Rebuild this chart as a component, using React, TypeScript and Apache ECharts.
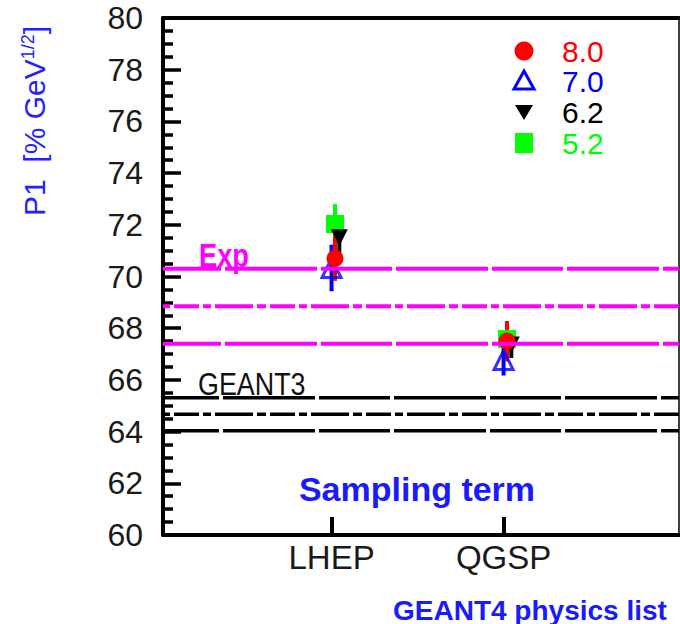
import React, { useEffect, useRef } from 'react';
import * as echarts from 'echarts';

// ---- data ----
const categories = ['LHEP', 'QGSP'];
const categoryPos = [1, 2];
const energies = ['8.0', '7.0', '6.2', '5.2'];
const yTickMin = 60;
const yTickMax = 80;
const yTickStep = 2;

// sampling term values at LHEP, QGSP for each energy
const val80 = [70.7, 67.5];
const err80 = [0.87, 0.78];
const val70 = [70.33, 66.77];
const err70 = [0.9, 0.6];
const val62 = [71.5, 67.35];
const err62 = [0.7, 0.5];
const val52 = [72.03, 67.58];
const err52 = [0.77, 0.3];

// reference bands
const expCentral = 68.85;
const expErr = 1.45;
const geant3Central = 64.67;
const geant3Err = 0.64;

const X_MIN = 0.02;
const X_MAX = 3.02;
const FONT = '"Liberation Sans", Arial, Helvetica, sans-serif';

const longDash = [92, 4, 71, 4];
const dashDot = [25, 4, 8, 4, 38, 4, 9, 4];

function pts(vals: number[], errs: number[], shift: number) {
  return vals.map((v, i) => [categoryPos[i] + shift, v, errs[i]]);
}

export default function App() {
  const ref = useRef<HTMLDivElement>(null);
  useEffect(() => {
    if (!ref.current) return;
    const chart = echarts.init(ref.current, null, { renderer: 'svg' });

    const sets = [
      { name: '5.2', data: pts(val52, err52, 0.02), color: '#00ff00', symbol: 'rect', size: 18, rot: 0, open: false },
      { name: '7.0', data: pts(val70, err70, 0.0), color: '#0000ff', symbol: 'triangle', size: 19, rot: 0, open: true },
      { name: '6.2', data: pts(val62, err62, 0.045), color: '#000000', symbol: 'triangle', size: 17, rot: 180, open: false },
      { name: '8.0', data: pts(val80, err80, 0.02), color: '#ff0000', symbol: 'circle', size: 17, rot: 0, open: false },
    ];

    const series: any[] = [];
    sets.forEach((s) => {
      series.push({
        type: 'custom',
        name: s.name + ' err',
        data: s.data,
        encode: { x: 0, y: 1 },
        z: 2,
        renderItem: (params: any, api: any) => {
          const x = api.value(0);
          const y = api.value(1);
          const e = api.value(2);
          const p1 = api.coord([x, y - e]);
          const p2 = api.coord([x, y + e]);
          return {
            type: 'line',
            shape: { x1: p1[0], y1: p1[1], x2: p2[0], y2: p2[1] },
            style: { stroke: s.color, lineWidth: 4 },
          };
        },
      });
      series.push({
        type: 'scatter',
        name: s.name,
        data: s.data.map((d) => [d[0], d[1]]),
        symbol: s.symbol,
        symbolSize: s.size,
        symbolRotate: s.rot,
        z: 2,
        itemStyle: s.open
          ? { color: 'rgba(0,0,0,0)', borderColor: s.color, borderWidth: 3 }
          : { color: s.color, opacity: 1 },
      });
    });

    const hline = (v: number, color: string, dash: number[], offset: number, width: number) => ({
      type: 'line',
      data: [
        [X_MIN, v],
        [X_MAX, v],
      ],
      showSymbol: false,
      symbol: 'none',
      z: 5,
      lineStyle: { color, width, type: dash, dashOffset: offset, cap: 'butt' },
      silent: true,
    });

    series.push(hline(expCentral + expErr, '#ff00ff', longDash, 109, 4));
    series.push(hline(expCentral, '#ff00ff', dashDot, 85, 4));
    series.push(hline(expCentral - expErr, '#ff00ff', longDash, 109, 4));
    series.push(hline(geant3Central + geant3Err, '#000000', longDash, 111, 3.5));
    series.push(hline(geant3Central, '#000000', dashDot, 85, 3.5));
    series.push(hline(geant3Central - geant3Err, '#000000', longDash, 111, 3.5));

    const legendColors = ['#ff0000', '#0000ff', '#000000', '#00ff00'];
    const rowsY = [51, 81, 112, 143];
    const mx = 524;
    const legendGraphics: any[] = [
      { type: 'circle', shape: { cx: mx, cy: rowsY[0], r: 9.5 }, style: { fill: legendColors[0] } },
      {
        type: 'polygon',
        shape: { points: [[mx, rowsY[1] - 10], [mx + 10, rowsY[1] + 8], [mx - 10, rowsY[1] + 8]] },
        style: { fill: 'none', stroke: legendColors[1], lineWidth: 3 },
      },
      {
        type: 'polygon',
        shape: { points: [[mx - 9, rowsY[2] - 7], [mx + 9, rowsY[2] - 7], [mx, rowsY[2] + 8]] },
        style: { fill: legendColors[2] },
      },
      { type: 'rect', shape: { x: mx - 9, y: rowsY[3] - 10, width: 18, height: 20 }, style: { fill: legendColors[3] } },
    ];
    energies.forEach((e, i) => {
      legendGraphics.push({
        type: 'text',
        x: 562,
        y: rowsY[i],
        style: { text: e, fill: legendColors[i], font: `30px ${FONT}`, textAlign: 'left', textVerticalAlign: 'middle' },
      });
    });

    const option: any = {
      animation: false,
      backgroundColor: '#ffffff',
      grid: { left: 163, top: 18, right: 1, bottom: 89, containLabel: false },
      xAxis: [
        {
          type: 'value',
          position: 'bottom',
          min: X_MIN,
          max: X_MAX,
          axisLine: { show: true, onZero: false, lineStyle: { color: '#000', width: 4 } },
          axisTick: { show: true, inside: true, length: 18, lineStyle: { color: '#000', width: 4 }, customValues: categoryPos },
          axisLabel: {
            show: true,
            customValues: categoryPos,
            formatter: (v: number) => categories[categoryPos.indexOf(Math.round(v))] || '',
            fontSize: 33,
            fontFamily: FONT,
            color: '#1a1a1a',
            margin: 6,
          },
          splitLine: { show: false },
        },
        {
          type: 'value',
          position: 'top',
          min: X_MIN,
          max: X_MAX,
          axisLine: { show: true, onZero: false, lineStyle: { color: '#000', width: 4 } },
          axisTick: { show: false },
          axisLabel: { show: false },
          splitLine: { show: false },
        },
      ],
      yAxis: [
        {
          type: 'value',
          min: yTickMin,
          max: yTickMax,
          interval: yTickStep,
          axisLine: { show: true, onZero: false, lineStyle: { color: '#000', width: 4 } },
          axisTick: { show: true, inside: true, length: 18, lineStyle: { color: '#000', width: 3.5 } },
          minorTick: { show: true, splitNumber: 4, length: 10, lineStyle: { color: '#000', width: 3.5 } },
          axisLabel: { fontSize: 32, fontFamily: FONT, color: '#1a1a1a', margin: 20 },
          splitLine: { show: false },
        },
        {
          type: 'value',
          position: 'right',
          min: yTickMin,
          max: yTickMax,
          axisLine: { show: true, onZero: false, lineStyle: { color: '#000', width: 1.5 } },
          axisTick: { show: false },
          axisLabel: { show: false },
          splitLine: { show: false },
        },
      ],
      graphic: [
        ...legendGraphics,
        {
          type: 'text',
          x: 34,
          y: 216,
          rotation: Math.PI / 2,
          style: {
            text: '{m|P1  [% GeV}{s|1/2}{m|]}',
            textAlign: 'left',
            textVerticalAlign: 'middle',
            rich: {
              m: { fontSize: 30, fontFamily: FONT, fill: '#2222ff', color: '#2222ff' },
              s: { fontSize: 18, fontFamily: FONT, fill: '#2222ff', color: '#2222ff', verticalAlign: 'top', padding: [0, 0, 12, 0] },
            },
          },
        },
        {
          type: 'text',
          x: 417,
          y: 489,
          style: { text: 'Sampling term', fill: '#1a1aff', font: `bold 34px ${FONT}`, textAlign: 'center', textVerticalAlign: 'middle' },
        },
        {
          type: 'text',
          x: 393,
          y: 610,
          style: { text: 'GEANT4 physics list', fill: '#1a1aff', font: `bold 28px ${FONT}`, textAlign: 'left', textVerticalAlign: 'middle' },
        },
        {
          type: 'text',
          x: 198,
          y: 384,
          scaleX: 0.84,
          style: { text: 'GEANT3', fill: '#111', font: `32px ${FONT}`, textAlign: 'left', textVerticalAlign: 'middle' },
        },
        {
          type: 'text',
          x: 199,
          y: 255,
          scaleX: 0.8,
          style: { text: 'Exp', fill: '#ff00ff', font: `bold 34px ${FONT}`, textAlign: 'left', textVerticalAlign: 'middle' },
        },
      ],
      series,
    };
    chart.setOption(option);
    return () => chart.dispose();
  }, []);

  return <div ref={ref} style={{ position: 'fixed', left: 0, top: 0, width: 680, height: 624, background: '#fff' }} />;
}
